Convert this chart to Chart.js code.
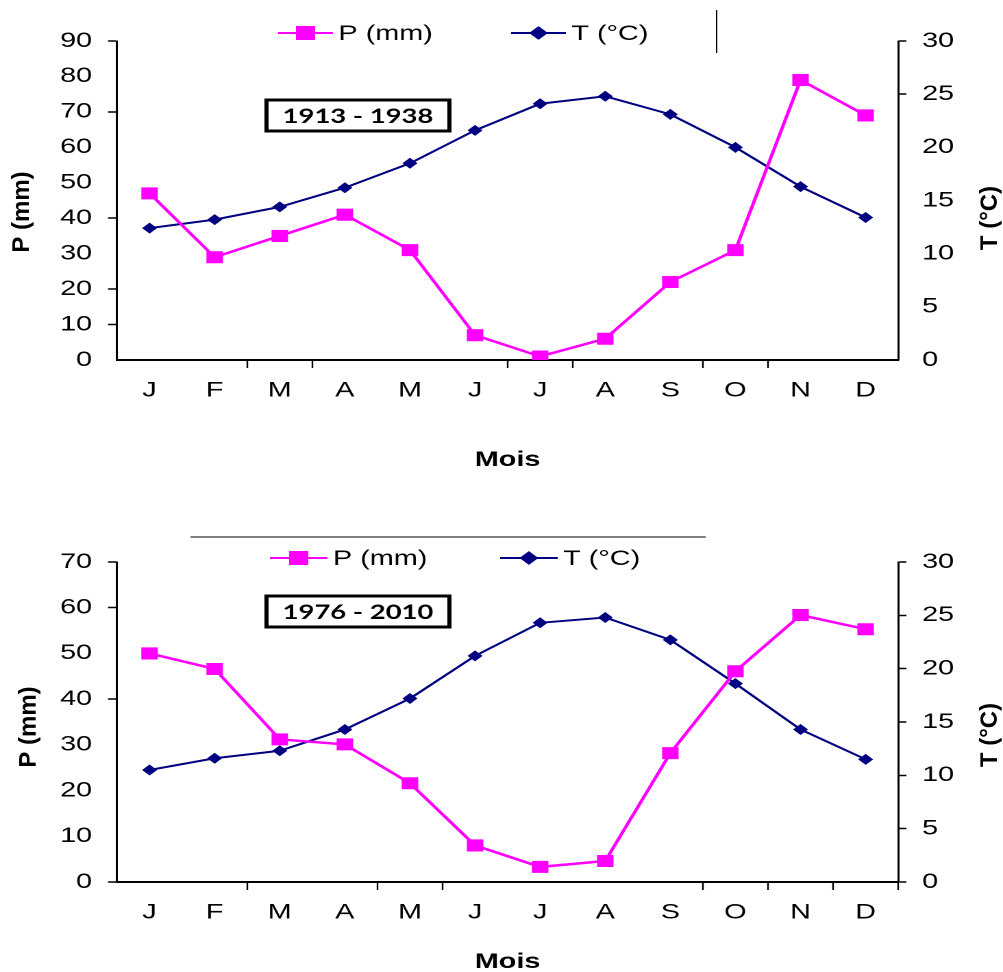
<!DOCTYPE html>
<html>
<head>
<meta charset="utf-8">
<script src="https://cdn.jsdelivr.net/npm/chart.js@4.4.1/dist/chart.umd.min.js"></script>
<style>
  html, body { margin: 0; padding: 0; background: #fff; width: 1003px; height: 972px; overflow: hidden; }
  canvas { position: absolute; left: 0; transform-origin: 0 0; transform: scaleX(1.3702); }
  #top { top: 0; width: 732px; height: 486px; }
  #bottom { top: 486px; width: 732px; height: 490px; }
</style>
</head>
<body>
<canvas id="top" width="732" height="486"></canvas>
<canvas id="bottom" width="732" height="490"></canvas>
<script>
const months = ['J', 'F', 'M', 'A', 'M', 'J', 'J', 'A', 'S', 'O', 'N', 'D'];

// 1913 - 1938
const precip1913 = [47, 29, 35, 41, 31, 7, 1, 6, 22, 31, 79, 69];
const temp1913 = [12.4, 13.2, 14.4, 16.2, 18.5, 21.6, 24.1, 24.8, 23.1, 20.0, 16.3, 13.4];

// 1976 - 2010
const precip1976 = [50, 46.6, 31.2, 30.1, 21.6, 8.0, 3.3, 4.6, 28.2, 46.1, 58.4, 55.3];
const temp1976 = [10.5, 11.6, 12.3, 14.3, 17.2, 21.2, 24.3, 24.8, 22.7, 18.6, 14.3, 11.5];

const STRETCH = 1003 / 732;
const FONT = '"Liberation Sans", Arial, sans-serif';
Chart.defaults.font.family = FONT;
Chart.defaults.font.size = 21;
Chart.defaults.color = '#000';

// legend, period box, rotated axis titles
const decorations = {
  id: 'decorations',
  afterDraw(chart, args, o) {
    const ctx = chart.ctx;
    ctx.save();

    chart.data.datasets.forEach((ds, i) => {
      const x = o.legendX[i];
      const y = o.legendY;
      ctx.strokeStyle = ds.borderColor;
      ctx.lineWidth = 2;
      ctx.beginPath();
      ctx.moveTo(x, y);
      ctx.lineTo(x + o.lineLen, y);
      ctx.stroke();
      ctx.fillStyle = ds.pointBackgroundColor;
      ctx.strokeStyle = ds.pointBorderColor;
      Chart.helpers.drawPoint(ctx, {
        pointStyle: ds.pointStyle, radius: ds.pointRadius, borderWidth: 1, rotation: 0
      }, x + o.lineLen / 2, y);
      ctx.fillStyle = '#000';
      ctx.font = '21px ' + FONT;
      ctx.textAlign = 'left';
      ctx.textBaseline = 'middle';
      ctx.fillText(ds.label, x + o.lineLen + 4, y + 1);
    });

    // leftover legend frame pieces
    ctx.strokeStyle = o.frame.color;
    ctx.lineWidth = o.frame.width;
    ctx.beginPath();
    ctx.moveTo(o.frame.x1, o.frame.y1);
    ctx.lineTo(o.frame.x2, o.frame.y2);
    ctx.stroke();

    // period box
    const b = o.box;
    ctx.strokeStyle = '#000';
    ctx.lineWidth = 3;
    ctx.strokeRect(b.x, b.y, b.w, b.h);
    ctx.fillStyle = '#000';
    ctx.font = 'bold 20px Lato, "Open Sans", sans-serif';
    ctx.textAlign = 'center';
    ctx.textBaseline = 'middle';
    ctx.fillText(b.text, b.x + b.w / 2, b.y + b.h / 2 + 1);

    // vertical axis titles, read bottom to top
    o.yTitles.forEach(t => {
      ctx.save();
      ctx.translate(t.x, t.y);
      ctx.rotate(-Math.PI / 2);
      ctx.scale(1, 1 / STRETCH);
      ctx.font = 'bold 24px ' + FONT;
      ctx.textAlign = 'center';
      ctx.textBaseline = 'middle';
      ctx.fillText(t.text, 0, 0);
      ctx.restore();
    });

    ctx.restore();
  }
};

function onlyTicks(list) {
  return c => list.includes(c.tick ? c.tick.value : -1) ? '#000' : 'rgba(0,0,0,0)';
}

function makePanel(id, precip, temp, cfg) {
  return new Chart(document.getElementById(id), {
    type: 'line',
    data: {
      labels: months,
      datasets: [
        {
          label: 'P (mm)',
          data: precip,
          yAxisID: 'yP',
          borderColor: '#FF00FF',
          backgroundColor: '#FF00FF',
          pointBackgroundColor: '#FF00FF',
          pointBorderColor: '#FF00FF',
          pointStyle: 'rect',
          pointRadius: 8.5,
          pointBorderWidth: 0,
          borderWidth: 2.5,
          order: 0
        },
        {
          label: 'T (°C)',
          data: temp,
          yAxisID: 'yT',
          borderColor: '#000080',
          backgroundColor: '#000080',
          pointBackgroundColor: '#000080',
          pointBorderColor: '#000080',
          pointStyle: 'rectRot',
          pointRadius: 5.5,
          pointBorderWidth: 0,
          borderWidth: 2,
          order: 1
        }
      ]
    },
    options: {
      responsive: false,
      animation: false,
      devicePixelRatio: 2,
      layout: { padding: { top: cfg.plotTop, left: 0, right: 0, bottom: 0 } },
      plugins: {
        legend: { display: false },
        tooltip: { enabled: false },
        decorations: cfg.deco
      },
      scales: {
        x: {
          offset: true,
          grid: {
            drawOnChartArea: false,
            offset: true,
            tickLength: 8,
            tickWidth: 1.2,
            tickColor: c => cfg.xTicks.includes(c.type === 'tick' ? c.index : 12) ? '#000' : 'rgba(0,0,0,0)'
          },
          border: { color: '#000', width: 2 },
          ticks: { padding: 10, autoSkip: false, maxRotation: 0 },
          title: {
            display: true,
            text: 'Mois',
            font: { size: 21, weight: 'bold' },
            padding: { top: 0, bottom: cfg.titlePad }
          },
          afterFit: s => { s.height = cfg.xHeight; }
        },
        yP: {
          position: 'left',
          min: 0,
          max: cfg.pMax,
          grid: { drawOnChartArea: false, tickLength: 6.6, tickWidth: 1.5, tickColor: onlyTicks(cfg.leftTicks) },
          border: { color: '#000', width: 1.5 },
          ticks: { stepSize: 10, padding: 11.6 },
          afterFit: s => { s.width = 85.4; }
        },
        yT: {
          position: 'right',
          min: 0,
          max: 30,
          grid: { drawOnChartArea: false, tickLength: 6, tickWidth: 1.5, tickColor: onlyTicks(cfg.rightTicks) },
          border: { color: '#000', width: 1.5 },
          ticks: { stepSize: 5, padding: 11.5 },
          afterFit: s => { s.width = 76.5; }
        }
      }
    },
    plugins: [decorations]
  });
}

makePanel('top', precip1913, temp1913, {
  plotTop: 41,
  xHeight: 126,
  titlePad: 13.4,
  pMax: 90,
  xTicks: [2, 3, 6, 7, 9, 10],
  leftTicks: [90, 70, 40, 20, 10],
  rightTicks: [30, 25],
  deco: {
    legendY: 33,
    legendX: [203, 373],
    lineLen: 40,
    frame: { x1: 523, y1: 10, x2: 523, y2: 53, color: '#000', width: 1 },
    box: { x: 194.5, y: 100, w: 133.5, h: 31, text: '1913 - 1938' },
    yTitles: [
      { text: 'P (mm)', x: 16, y: 212 },
      { text: 'T (°C)', x: 722.5, y: 218 }
    ]
  }
});

makePanel('bottom', precip1976, temp1976, {
  plotTop: 76,
  xHeight: 94,
  titlePad: 1.4,
  pMax: 70,
  xTicks: [2, 4, 5, 9, 10, 11, 12],
  leftTicks: [70, 60, 40, 0],
  rightTicks: [0, 5, 10, 15, 20, 25, 30],
  deco: {
    legendY: 72,
    legendX: [197, 365],
    lineLen: 42,
    frame: { x1: 139, y1: 51, x2: 515, y2: 51, color: '#555', width: 1.5 },
    box: { x: 194.5, y: 110, w: 133.5, h: 31, text: '1976 - 2010' },
    yTitles: [
      { text: 'P (mm)', x: 21, y: 241 },
      { text: 'T (°C)', x: 722.5, y: 249 }
    ]
  }
});
</script>
</body>
</html>
